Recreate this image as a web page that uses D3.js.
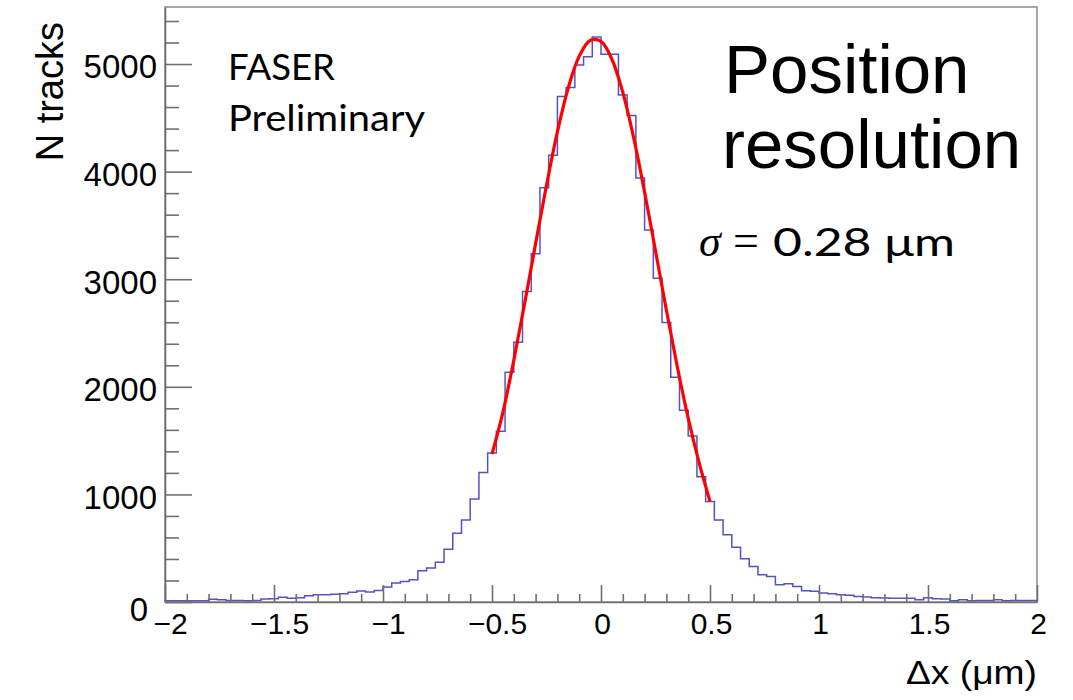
<!DOCTYPE html>
<html><head><meta charset="utf-8">
<script src="https://cdn.jsdelivr.net/npm/d3@7"></script>
<style>body{margin:0;background:#fff}svg{display:block}</style>
</head><body>
<svg id="c" width="1073" height="700"></svg>
<script>
// ---- data ----
const xRange = [-2, 2];
const nBins = 100;
const counts = [
  12,12,12,12,12,25,22,15,15,12,
  15,28,31,43,34,40,59,68,68,71,
  77,90,102,93,108,139,176,191,207,290,
  315,370,491,639,762,957,1204,1385,1586,2135,
  2413,2886,3237,3849,4151,4698,4781,4991,5067,5252,
  5090,5090,4713,4522,3941,3457,3009,2598,2089,1781,
  1543,1163,935,762,624,509,401,330,253,238,
  160,170,145,105,99,83,77,68,62,52,
  46,40,37,34,34,34,22,40,31,28,
  12,22,12,15,15,22,12,15,15,15
];
const fitX = [-0.5,-0.45,-0.4,-0.35,-0.3,-0.25,-0.2,-0.15,-0.1,-0.05,0,0.05,0.1,0.15,0.2,0.25,0.3,0.35,0.4,0.45,0.5];
const fitY = [1375,1763,2247,2778,3331,3873,4369,4780,5072,5219,5210,5044,4736,4313,3809,3264,2712,2186,1709,1295,935];
const xTicks = [-2,-1.5,-1,-0.5,0,0.5,1,1.5,2];
const xTickLabels = ["\u22122","\u22121.5","\u22121","\u22120.5","0","0.5","1","1.5","2"];
const yTicks = [0,1000,2000,3000,4000,5000];
const yTickLabels = ["0","1000","2000","3000","4000","5000"];
const yMax = 5530;
const xTitle = "\u0394x (\u03bcm)";
const yTitle = "N tracks";

// ---- layout ----
const svg = d3.select("#c");
const L = 165, R = 1037, T = 7, B = 602;
const x = d3.scaleLinear().domain(xRange).range([L, R]);
const y = d3.scaleLinear().domain([0, yMax]).range([B, T]);
const axisCol = "#707070";

// frame
svg.append("rect").attr("x", L).attr("y", T).attr("width", R - L).attr("height", B - T)
  .attr("fill", "none").attr("stroke", "#8a8a8a").attr("stroke-width", 1.5);

// histogram
const binW = (xRange[1] - xRange[0]) / nBins;
const pts = counts.map((c, i) => [xRange[0] + i * binW, c]);
pts.push([xRange[1], counts[counts.length - 1]]);
svg.append("path").datum(pts)
  .attr("d", d3.line().x(d => x(d[0])).y(d => y(d[1])).curve(d3.curveStepAfter))
  .attr("fill", "none").attr("stroke", "#4040bf").attr("stroke-width", 1.5).attr("stroke-opacity", 0.9);

// fit
svg.append("path").datum(fitX.map((v, i) => [v, fitY[i]]))
  .attr("d", d3.line().x(d => x(d[0])).y(d => y(d[1])).curve(d3.curveCatmullRom))
  .attr("fill", "none").attr("stroke", "#ff0000").attr("stroke-width", 3.2);

// x axis minor
const xMinor = d3.range(-20, 21).map(i => i / 10).filter(v => Math.abs(v * 2 - Math.round(v * 2)) > 1e-6);
const gxm = svg.append("g").attr("transform", `translate(0,${B})`)
  .call(d3.axisBottom(x).tickValues(xMinor).tickSize(-8).tickSizeOuter(0).tickFormat(""));
gxm.select(".domain").remove();
const gx = svg.append("g").attr("transform", `translate(0,${B})`)
  .call(d3.axisBottom(x).tickValues(xTicks).tickSize(-17).tickSizeOuter(0).tickPadding(11)
    .tickFormat((d, i) => xTickLabels[i]));
gx.selectAll("text").attr("font-family", "'Liberation Sans', Arial, sans-serif").attr("font-size", 30)
  .attr("fill", "#000").attr("dx", d => d < 0 ? 5 : 1);

// y axis minor
const yMinor = d3.range(0, 28).map(i => i * 200).filter(v => v % 1000 !== 0 && v < yMax);
const gym = svg.append("g").attr("transform", `translate(${L},0)`)
  .call(d3.axisLeft(y).tickValues(yMinor).tickSize(-14).tickSizeOuter(0).tickFormat(""));
gym.select(".domain").remove();
const gy = svg.append("g").attr("transform", `translate(${L},0)`)
  .call(d3.axisLeft(y).tickValues(yTicks).tickSize(-27).tickSizeOuter(0).tickPadding(8)
    .tickFormat((d, i) => yTickLabels[i]));
gy.selectAll("text").attr("font-family", "'Liberation Sans', Arial, sans-serif").attr("font-size", 33)
  .attr("fill", "#000").attr("dy", "0.42em");
gy.selectAll(".tick").filter(d => d === 0).select("text").attr("dx", -9).attr("dy", "0.55em");

[gxm, gx, gym, gy].forEach(g => {
  g.selectAll("line").attr("stroke", axisCol).attr("stroke-width", 1.6);
  g.selectAll(".domain").attr("stroke", axisCol).attr("stroke-width", 1.6);
});

// axis titles
svg.append("text").attr("x", R).attr("y", 684).attr("text-anchor", "end")
  .attr("font-family", "'Liberation Sans', Arial, sans-serif").attr("font-size", 33)
  .attr("textLength", 131).attr("lengthAdjust", "spacingAndGlyphs")
  .text(xTitle);
svg.append("text").attr("transform", "translate(63,22) rotate(-90)").attr("text-anchor", "end")
  .attr("font-family", "'Liberation Sans', Arial, sans-serif").attr("font-size", 38)
  .text(yTitle);

// annotations
const ann = svg.append("g").attr("font-family", "Lato, 'Open Sans', sans-serif").attr("fill", "#000");
ann.append("text").attr("x", 228).attr("y", 80).attr("font-size", 37)
  .attr("textLength", 107).attr("lengthAdjust", "spacingAndGlyphs").text("FASER");
ann.append("text").attr("x", 228).attr("y", 131).attr("font-size", 37)
  .attr("textLength", 197).attr("lengthAdjust", "spacingAndGlyphs").text("Preliminary");

const big = svg.append("g").attr("font-family", "'Liberation Sans', Arial, sans-serif").attr("font-size", 69);
big.append("text").attr("x", 724).attr("y", 93).text("Position");
big.append("text").attr("x", 722).attr("y", 168).text("resolution");

const sig = svg.append("text").attr("y", 256).attr("fill", "#000");
sig.append("tspan").attr("x", 699).attr("font-family", "'Liberation Serif', 'DejaVu Serif', serif")
  .attr("font-style", "italic").attr("font-size", 44).text("\u03c3");
sig.append("tspan").attr("x", 733).attr("font-family", "'Liberation Serif', serif").attr("font-size", 46).text("=");
sig.append("tspan").attr("x", 773).attr("font-family", "Lato, sans-serif").attr("font-size", 38)
  .attr("textLength", 182).attr("lengthAdjust", "spacingAndGlyphs").text("0.28 \u03bcm");
</script>
</body></html>
